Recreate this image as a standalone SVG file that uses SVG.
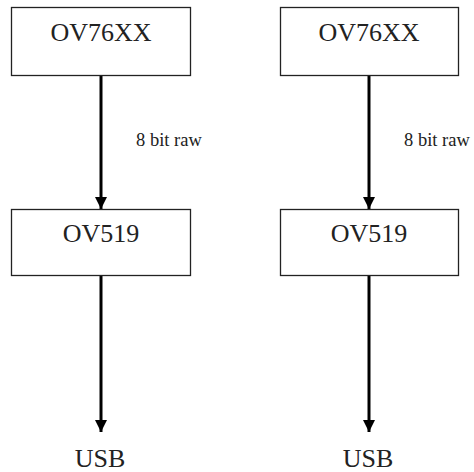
<svg xmlns="http://www.w3.org/2000/svg" width="474" height="472" viewBox="0 0 474 472">
<style>
.box{fill:#fff;stroke:#222;stroke-width:1.3}
.t{font-family:"Liberation Serif","Times New Roman",serif;font-size:26px;fill:#222;text-anchor:middle}
.lbl{font-family:"Liberation Serif","Times New Roman",serif;font-size:18.5px;fill:#222}
.c{stroke:#000;stroke-width:3;fill:none;marker-end:url(#ah)}
</style>
<defs>
<marker id="ah" markerUnits="userSpaceOnUse" markerWidth="12" markerHeight="12" refX="10" refY="5" orient="auto" viewBox="0 0 10 10">
<path d="M0,0 L10,5 L0,10 z" fill="#000"/>
</marker>
</defs>
<rect width="474" height="472" fill="#fff"/>
<g id="connectors">
<line class="c" x1="101" y1="76" x2="101" y2="209"/>
<line class="c" x1="101" y1="276" x2="101" y2="432"/>
<line class="c" x1="369" y1="76" x2="369" y2="209"/>
<line class="c" x1="369" y1="276" x2="369" y2="432"/>
<text class="lbl" x="136" y="146">8 bit raw</text>
<text class="lbl" x="404" y="146">8 bit raw</text>
</g>
<g id="ov76xx-left"><rect class="box" x="11.5" y="7.5" width="179" height="68"/><text class="t" x="101" y="41">OV76XX</text></g>
<g id="ov519-left"><rect class="box" x="11.5" y="209.5" width="179" height="66"/><text class="t" x="101" y="242">OV519</text></g>
<g id="usb-left"><text class="t" x="100" y="467">USB</text></g>
<g id="ov76xx-right"><rect class="box" x="280.5" y="7.5" width="178" height="68"/><text class="t" x="369" y="41">OV76XX</text></g>
<g id="ov519-right"><rect class="box" x="280.5" y="209.5" width="178" height="66"/><text class="t" x="369" y="242">OV519</text></g>
<g id="usb-right"><text class="t" x="368" y="467">USB</text></g>
</svg>
